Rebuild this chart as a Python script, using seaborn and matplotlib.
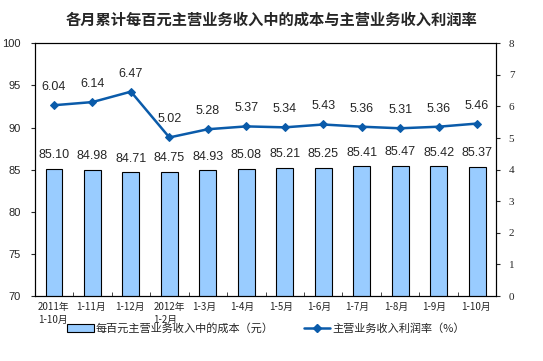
import numpy as np
import matplotlib
matplotlib.use('Agg')
import matplotlib.pyplot as plt
import seaborn as sns
from matplotlib.patches import Patch
from matplotlib.lines import Line2D

# data
categories = ['2011年\n1-10月', '1-11月', '1-12月', '2012年\n1-2月', '1-3月', '1-4月',
              '1-5月', '1-6月', '1-7月', '1-8月', '1-9月', '1-10月']
cost = [85.10, 84.98, 84.71, 84.75, 84.93, 85.08, 85.21, 85.25, 85.41, 85.47, 85.42, 85.37]
profit_rate = [6.04, 6.14, 6.47, 5.02, 5.28, 5.37, 5.34, 5.43, 5.36, 5.31, 5.36, 5.46]
bar_label = '每百元主营业务收入中的成本（元）'
line_label = '主营业务收入利润率（%）'
title = '各月累计每百元主营业务收入中的成本与主营业务收入利润率'

sns.set_style('white')
plt.rcParams['font.family'] = ['Noto Sans CJK SC', 'DejaVu Sans']

bar_color = '#99CCFF'
line_color = '#0A5BAA'

fig = plt.figure(figsize=(5.43, 3.61), dpi=100)
ax = fig.add_axes([0.064, 0.18, 0.85, 0.70])

sns.barplot(x=categories, y=cost, color=bar_color, edgecolor='black', linewidth=0.8,
            width=0.44, saturation=1, ax=ax)
ax.set_ylim(70, 100)
ax.set_yticks(np.arange(70, 101, 5))
ax.set_xlim(-0.5, len(categories) - 0.5)
for i, v in enumerate(cost):
    ax.text(i, v + 0.9, f'{v:.2f}', ha='center', va='bottom', fontsize=9,
            family='Liberation Sans')

ax2 = ax.twinx()
sns.lineplot(x=np.arange(len(categories)), y=profit_rate, color=line_color, linewidth=1.8,
             marker='D', markersize=4.5, markeredgecolor=line_color, ax=ax2)
ax2.set_ylim(0, 8)
ax2.set_yticks(np.arange(0, 9, 1))
for i, v in enumerate(profit_rate):
    ax2.text(i, v + 0.38, f'{v:.2f}', ha='center', va='bottom', fontsize=9,
             family='Liberation Sans')

for a in (ax, ax2):
    for s in a.spines.values():
        s.set_color('black')
        s.set_linewidth(0.8)

ax.tick_params(axis='y', labelsize=8, length=3, direction='out', left=True, pad=7)
ax2.tick_params(axis='y', labelsize=8, length=3, direction='out', right=True, pad=6)
for lab in ax.get_yticklabels():
    lab.set_family('Liberation Sans')
for lab in ax2.get_yticklabels():
    lab.set_family('Liberation Serif')
ax.set_xticks(np.arange(len(categories)) - 0.42, minor=False)
ax.set_xticklabels(categories, ha='left', fontsize=7, linespacing=1.4)
ax.tick_params(axis='x', which='major', length=0, pad=4)
ax.set_xticks(np.arange(len(categories) + 1) - 0.5, minor=True)
ax.tick_params(axis='x', which='minor', length=3, direction='in', bottom=True)

fig.text(0.5, 0.945, title, ha='center', va='center', fontsize=11, fontweight='bold')

handles = [Patch(facecolor=bar_color, edgecolor='black', linewidth=0.8),
           Line2D([0], [0], color=line_color, linewidth=1.8, marker='D', markersize=4)]
fig.legend(handles, [bar_label, line_label], loc='center', bbox_to_anchor=(0.49, 0.09),
           ncol=2, frameon=False, fontsize=8, columnspacing=2.7, handlelength=2.4,
           handletextpad=0.2, handleheight=0.6)

fig.savefig('out.png', dpi=100)
